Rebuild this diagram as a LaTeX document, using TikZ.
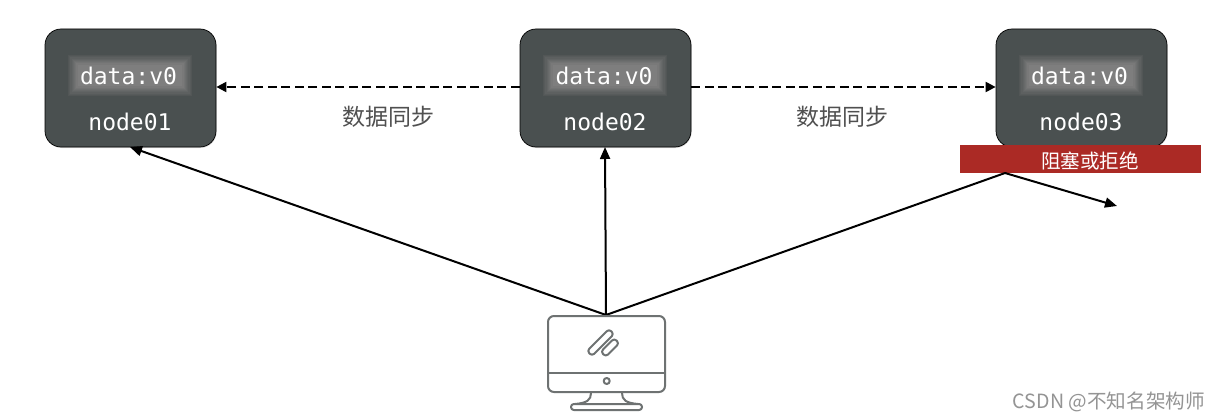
\documentclass[tikz,border=0pt]{standalone}
\usepackage{fontspec}
\setmainfont{Liberation Sans}
\newfontfamily\cjk{Noto Sans CJK SC}
\newfontfamily\monof{DejaVu Sans Mono}
\usetikzlibrary{arrows.meta,shadows}
\definecolor{boxdark}{HTML}{4A5050}
\definecolor{redbar}{HTML}{AB2A25}
\definecolor{monitor}{HTML}{6E7272}
\definecolor{labelgray}{HTML}{505050}
\definecolor{glowedge}{HTML}{525656}
\definecolor{glowcore}{HTML}{7E7E7E}
\tikzset{
  x=1pt,y=-1pt,
  server/.style={draw=black,line width=0.7pt,fill=boxdark,rounded corners=16pt,minimum width=171pt,minimum height=118pt,inner sep=0pt,
    drop shadow={shadow xshift=0.6pt,shadow yshift=-1pt,opacity=0.25}},
  datatext/.style={text=white,font=\monof\fontsize{23}{26}\selectfont,inner sep=0pt},
  nodename/.style={text=white,font=\monof\fontsize{23}{26}\selectfont,inner sep=0pt},
  synclabel/.style={text=labelgray,font=\cjk\fontsize{23}{26}\selectfont,inner sep=0pt},
  dasharrow/.style={draw=black,line width=2pt,dash pattern=on 9pt off 4.5pt,-{Triangle[length=10pt,width=10pt]}},
  solidarrow/.style={draw=black,line width=2pt,-{Triangle[length=12pt,width=10pt]}},
  mon/.style={draw=monitor,line width=2pt,line join=round,fill=none},
}
\begin{document}
\begin{tikzpicture}
\useasboundingbox (0,0) rectangle (1221,420);
\fill[white] (0,0) rectangle (1221,420);
% servers
\node[server] (n1) at (130.5,88) {};
\node[server] (n2) at (605.5,88) {};
\node[server] (n3) at (1081.5,88) {};
% soft-edged data panels
\foreach \cx in {130,605,1081}{
  \foreach \i in {0,...,8}{
    \pgfmathsetmacro{\mixv}{\i*12.5}
    \fill[glowcore!\mixv!glowedge] (\cx-62+\i*1.2,55+\i*1.2) rectangle (\cx+62-\i*1.2,96-\i*1.2);
  }
}
\node[datatext] (dt1) at (128.5,75.5) {data:v0};
\node[datatext] (dt2) at (604,75.5) {data:v0};
\node[datatext] (dt3) at (1079.5,75.5) {data:v0};
\node[nodename] (t1) at (130,121.5) {node01};
\node[nodename] (t2) at (605,121.5) {node02};
\node[nodename] (t3) at (1081,121.5) {node03};
% sync
\draw[dasharrow] (n2.west |- 0,87) -- (n1.east |- 0,87);
\draw[dasharrow] (n2.east |- 0,87) -- (n3.west |- 0,87);
\node[synclabel] (s1) at (388,117) {数据同步};
\node[synclabel] (s2) at (842,117) {数据同步};
% red bar
\node[fill=redbar,minimum width=241pt,minimum height=28pt,inner sep=0pt] (bar) at (1080.5,159) {};
\node[text=white,font=\cjk\fontsize{19.6}{22}\selectfont,inner sep=0pt] (barlabel) at (1090,161) {阻塞或拒绝};
% client
\coordinate (top) at (606,315);
\coordinate (hit) at (1005,173);
\coordinate (end) at (1117,206);
\coordinate (a1) at (130,147);
\coordinate (a2) at (605,147);
\draw[solidarrow] (top) -- (a1);
\draw[solidarrow] (top) -- (a2);
\draw[draw=black,line width=2pt] (top) -- (hit);
\draw[solidarrow] (hit) -- (end);
% monitor
\draw[mon,rounded corners=6pt] (548,316) rectangle (665,392);
\draw[mon] (548,372.7) -- (665,372.7);
\draw[mon] (606.7,381) circle (3pt);
\draw[mon,rotate around={45:(600.5,342.5)},rounded corners=3pt] (585,339) rectangle (616,346);
\draw[mon,rotate around={45:(610,347.5)},rounded corners=3pt] (600.5,344) rectangle (619.5,351);
\draw[mon] (591,393) .. controls (591,400) and (587,403) .. (575,404);
\draw[mon] (622,393) .. controls (622,400) and (626,403) .. (638,404);
\draw[mon,rounded corners=2.8pt] (571,404) rectangle (642,410);
% watermark
\node[anchor=east,inner sep=0pt,text=black!42,font=\cjk\fontsize{19.6}{22}\selectfont] (mark) at (1205,402) {CSDN @不知名架构师};
\end{tikzpicture}
\end{document}
